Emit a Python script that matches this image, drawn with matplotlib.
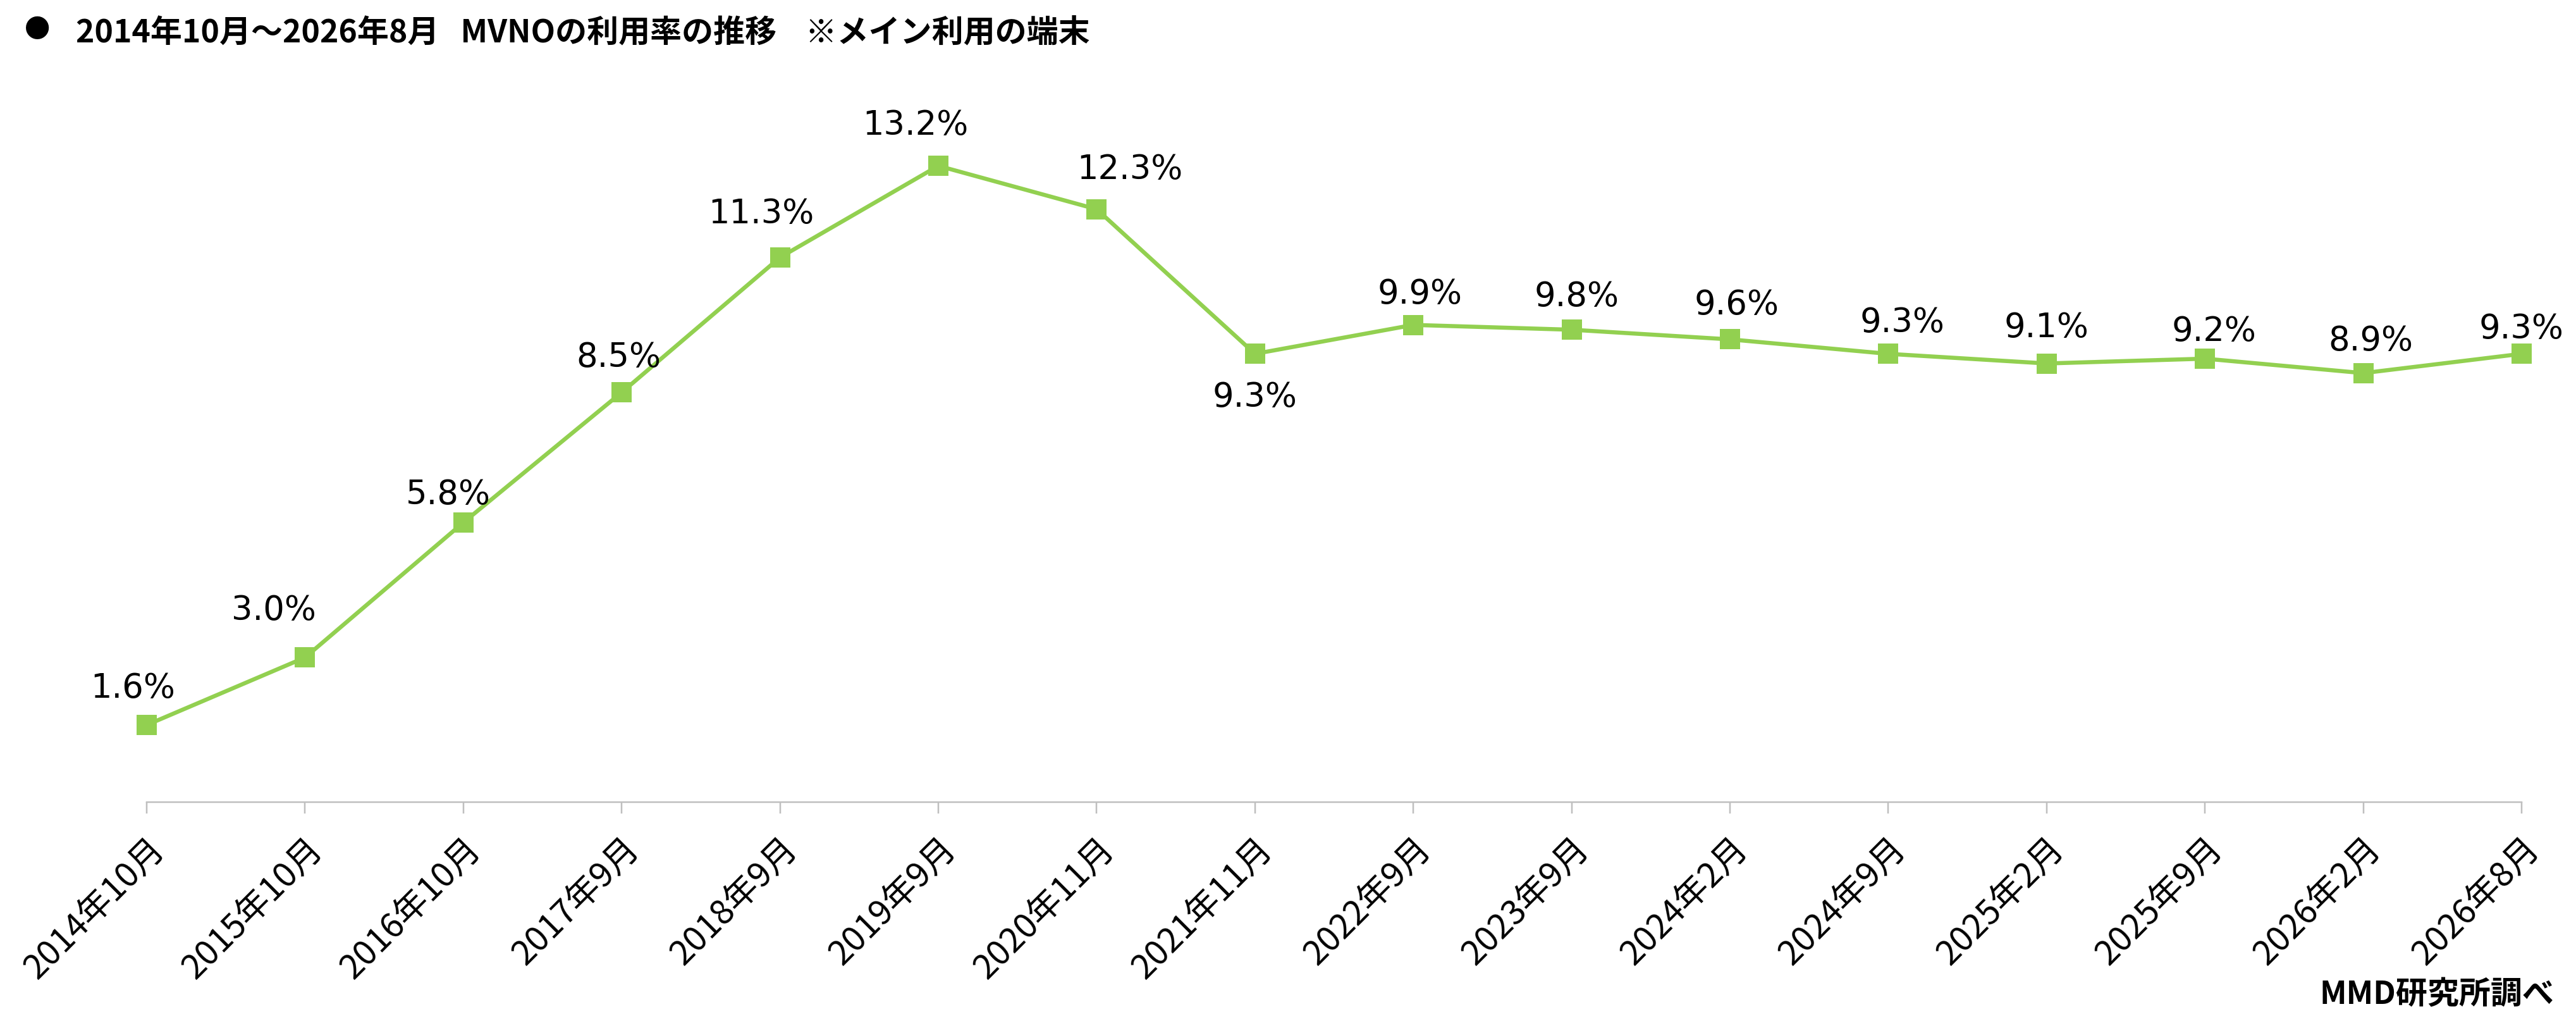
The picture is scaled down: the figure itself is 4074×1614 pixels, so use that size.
import matplotlib.pyplot as plt

# MVNO 利用率の推移（メイン利用の端末）
periods = ['2014年10月', '2015年10月', '2016年10月', '2017年9月', '2018年9月', '2019年9月',
           '2020年11月', '2021年11月', '2022年9月', '2023年9月', '2024年2月', '2024年9月',
           '2025年2月', '2025年9月', '2026年2月', '2026年8月']
usage_rate = [1.6, 3.0, 5.8, 8.5, 11.3, 13.2, 12.3, 9.3, 9.9, 9.8, 9.6, 9.3, 9.1, 9.2, 8.9, 9.3]

# ラベル位置の微調整（px：横ずれ, マーカー中心からベースラインまでの高さ）
label_dx = [-22, -49, -24, -5, -30, -36, 52, 0, 10, 8, 11, 22, 0, 14, 12, 0]
label_dy = [43, 59, 29, 40, 54, 49, 48, -84, 34, 37, 39, 34, 42, 28, 36, 24]

green = '#92D050'
grey = '#BFBFBF'
px = 72 / 100  # px -> pt

fig = plt.figure(figsize=(40.74, 16.14), dpi=100)
ax = fig.add_axes([232 / 4074, 346 / 1614, 3756 / 4074, 1143 / 1614])

x = range(len(periods))
ax.plot(x, usage_rate, color=green, linewidth=6.5 * px, marker='s',
        markersize=32 * px, markerfacecolor=green, markeredgewidth=0, clip_on=False)

for i, v in enumerate(usage_rate):
    ax.annotate(f'{v:.1f}%', (i, v), xytext=(label_dx[i] * px, label_dy[i] * px),
                textcoords='offset points', ha='center', va='baseline',
                fontsize=38, family='DejaVu Sans', color='black')

ax.set_xlim(0, len(periods) - 1)
ax.set_ylim(0, 15)
ax.set_yticks([])
for s in ['top', 'right', 'left']:
    ax.spines[s].set_visible(False)
ax.spines['bottom'].set_color(grey)
ax.spines['bottom'].set_linewidth(2.5 * px)

ax.set_xticks(list(x))
ax.set_xticklabels(periods, rotation=45, ha='right', va='top', rotation_mode='anchor',
                   fontsize=39, family=['Noto Sans CJK JP', 'DejaVu Sans'])
ax.tick_params(axis='x', direction='out', length=18 * px, width=2.5 * px,
               color=grey, pad=28 * px)

fig.text(59 / 4074, 1 - 48 / 1614, '●', fontsize=29, ha='center', va='center',
         family=['Noto Sans CJK JP', 'DejaVu Sans'])
fig.text(120 / 4074, 1 - 67 / 1614,
         '2014年10月～2026年8月   MVNOの利用率の推移    ※メイン利用の端末',
         fontsize=36, fontweight='bold', ha='left', va='baseline',
         family=['Noto Sans CJK JP', 'DejaVu Sans'])
fig.text(4039 / 4074, 1 - 1587 / 1614, 'MMD研究所調べ', fontsize=36, fontweight='bold',
         ha='right', va='baseline', family=['Noto Sans CJK JP', 'DejaVu Sans'])

fig.savefig('out.png', dpi=100)
